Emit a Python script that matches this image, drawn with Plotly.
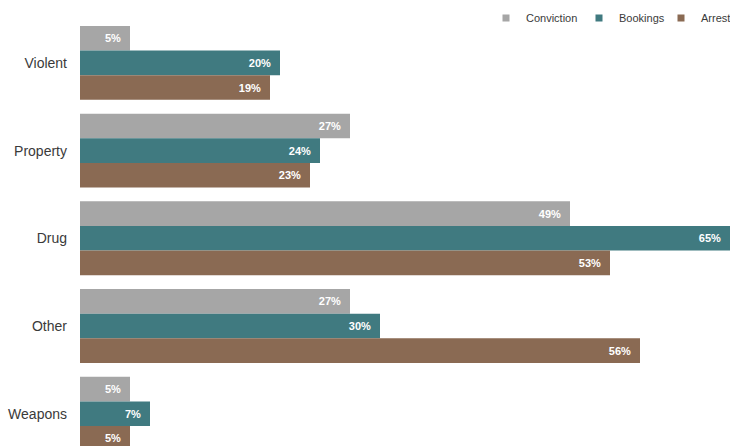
import plotly.graph_objects as go

# Offense categories (top to bottom) and share of each stage, in percent
categories = ["Violent", "Property", "Drug", "Other", "Weapons"]
conviction = [5, 27, 49, 27, 5]
bookings = [20, 24, 65, 30, 7]
arrests = [19, 23, 53, 56, 5]

series = [
    ("Conviction", conviction, "#a6a6a6"),
    ("Bookings", bookings, "#407a80"),
    ("Arrests", arrests, "#8a6a53"),
]

FONT = "Liberation Sans, Arial, Helvetica, sans-serif"
PAD = "\u00a0\u00a0"
PLOT_L, PLOT_W = 80, 650

fig = go.Figure()
for name, vals, color in series:
    fig.add_trace(go.Bar(
        y=categories, x=vals, name=name, orientation="h",
        marker=dict(color=color, line=dict(width=0)),
        text=[f"{v}%{PAD}" for v in vals],
        textposition="inside", insidetextanchor="end",
        textfont=dict(family=FONT, size=11, color="white", weight="bold"),
        constraintext="none",
        showlegend=False, hoverinfo="skip",
    ))

# One small legend per series so each entry sits at its own spot
legend_ids = ["legend", "legend2", "legend3"]
legend_text_x = [526, 619, 701]
legend_layout = {}
for (name, vals, color), lid, tx in zip(series, legend_ids, legend_text_x):
    fig.add_trace(go.Scatter(
        x=[None], y=[None], mode="markers", name=name,
        marker=dict(symbol="square", size=7, color=color),
        showlegend=True, legend=lid,
    ))
    legend_layout[lid] = dict(
        orientation="h", x=(tx - 40 - PLOT_L) / PLOT_W, xanchor="left",
        y=1 - 18 / 446, yanchor="middle",
        font=dict(size=11, color="#3a3a3a"),
        bgcolor="rgba(0,0,0,0)", itemwidth=30,
    )

fig.update_layout(
    width=730, height=446,
    margin=dict(l=PLOT_L, r=0, t=0, b=0, autoexpand=False),
    paper_bgcolor="white", plot_bgcolor="white",
    barmode="group", bargap=0.157, bargroupgap=0,
    font=dict(family=FONT, color="#3a3a3a"),
    showlegend=True,
    xaxis=dict(visible=False, range=[0, 65], fixedrange=True),
    yaxis=dict(
        type="category", categoryorder="array", categoryarray=categories,
        range=[(446 - 62.9) / 87.7, -62.9 / 87.7],
        showgrid=False, zeroline=False, showline=False, ticks="",
        ticklabelstandoff=12,
        tickfont=dict(size=14, color="#3a3a3a"),
    ),
    **legend_layout,
)

fig.write_html("out.html")
